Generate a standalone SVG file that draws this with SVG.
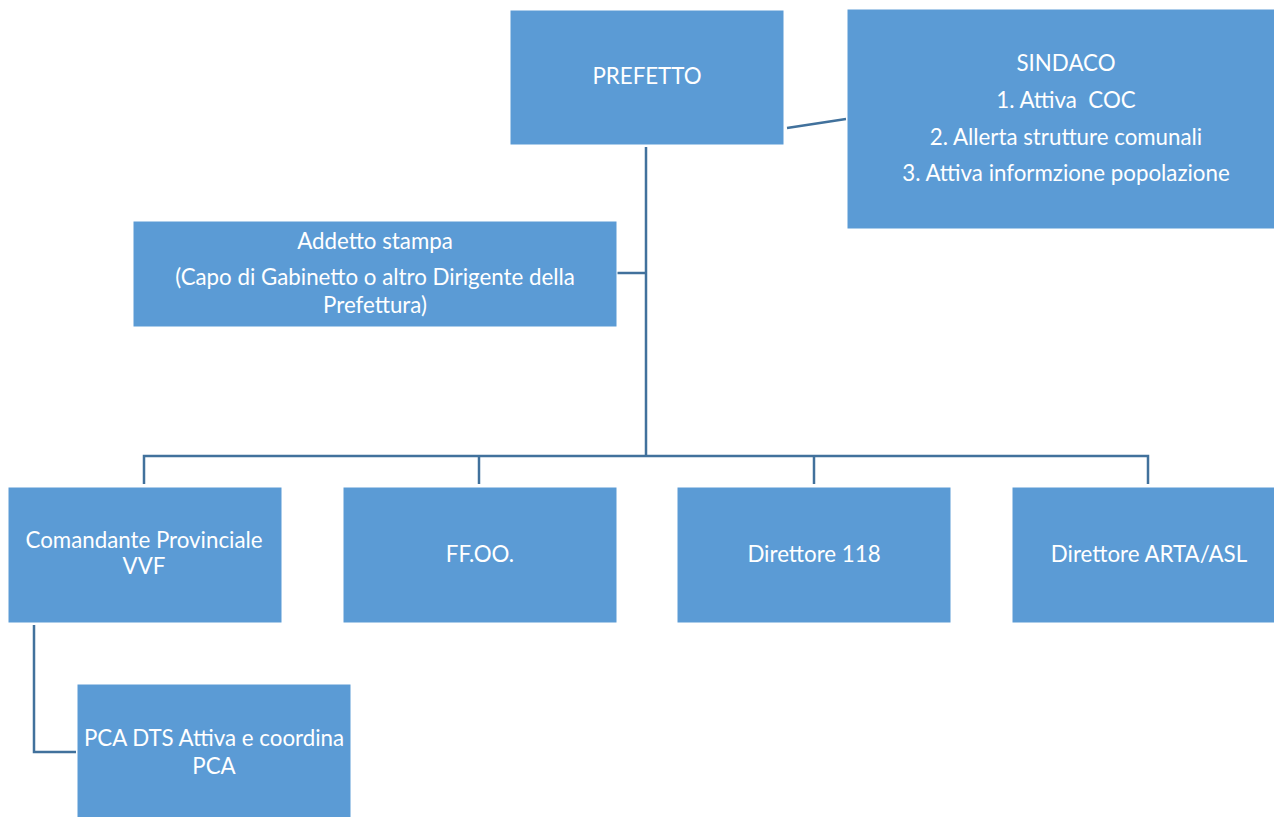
<svg xmlns="http://www.w3.org/2000/svg" width="1274" height="817" viewBox="0 0 1274 817">
  <style>
    .box { fill: #5B9BD5; stroke: #FFFFFF; stroke-width: 1; }
    .lbl { fill: #FFFFFF; font-family: Lato, "Liberation Sans", sans-serif; font-size: 22.3px; text-anchor: middle; white-space: pre; }
    .wire { fill: none; stroke: #41719C; stroke-width: 2.5; }
  </style>
  <rect width="1274" height="817" fill="#FFFFFF"/>

  <!-- connectors -->
  <g id="connectors">
    <line class="wire" x1="787" y1="128" x2="846" y2="119"/>
    <line class="wire" x1="646" y1="147" x2="646" y2="457"/>
    <line class="wire" x1="617" y1="273" x2="646" y2="273"/>
    <polyline class="wire" points="144,484 144,456 1148,456 1148,484"/>
    <line class="wire" x1="479" y1="456" x2="479" y2="484"/>
    <line class="wire" x1="814" y1="456" x2="814" y2="484"/>
    <polyline class="wire" points="34,625 34,752 76,752"/>
  </g>

  <g id="prefetto">
    <rect class="box" x="510" y="10" width="274" height="135"/>
    <text class="lbl" x="647" y="84">PREFETTO</text>
  </g>

  <g id="sindaco">
    <rect class="box" x="847" y="9" width="428" height="220"/>
    <text class="lbl" x="1066" y="71">SINDACO</text>
    <text class="lbl" x="1066" y="108" xml:space="preserve">1. Attiva  COC</text>
    <text class="lbl" x="1066" y="145">2. Allerta strutture comunali</text>
    <text class="lbl" x="1066" y="181">3. Attiva informzione popolazione</text>
  </g>

  <g id="addetto-stampa">
    <rect class="box" x="133" y="221" width="484" height="106"/>
    <text class="lbl" x="375" y="249">Addetto stampa</text>
    <text class="lbl" x="375" y="285">(Capo di Gabinetto o altro Dirigente della</text>
    <text class="lbl" x="375" y="313">Prefettura)</text>
  </g>

  <g id="comandante-vvf">
    <rect class="box" x="8" y="487" width="274" height="136"/>
    <text class="lbl" x="144" y="548">Comandante Provinciale</text>
    <text class="lbl" x="144" y="574">VVF</text>
  </g>

  <g id="ffoo">
    <rect class="box" x="343" y="487" width="274" height="136"/>
    <text class="lbl" x="480" y="562">FF.OO.</text>
  </g>

  <g id="direttore-118">
    <rect class="box" x="677" y="487" width="274" height="136"/>
    <text class="lbl" x="814" y="562">Direttore 118</text>
  </g>

  <g id="direttore-arta-asl">
    <rect class="box" x="1012" y="487" width="274" height="136"/>
    <text class="lbl" x="1149" y="562">Direttore ARTA/ASL</text>
  </g>

  <g id="pca-dts">
    <rect class="box" x="77" y="684" width="274" height="136"/>
    <text class="lbl" x="214" y="746">PCA DTS Attiva e coordina</text>
    <text class="lbl" x="214" y="774">PCA</text>
  </g>
</svg>
